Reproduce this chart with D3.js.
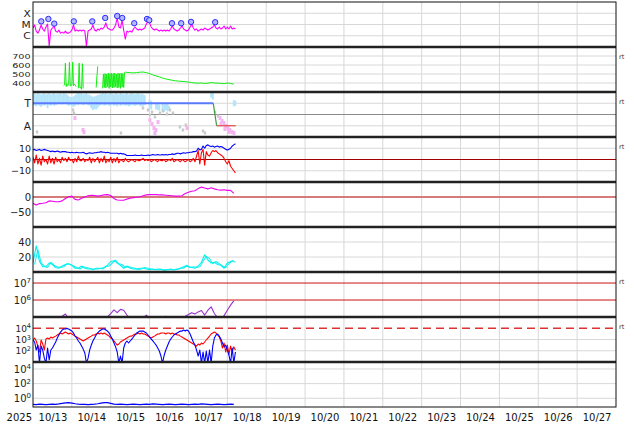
<!DOCTYPE html>
<html><head><meta charset="utf-8">
<script src="https://cdn.jsdelivr.net/npm/d3@7"></script>
<style>
html,body{margin:0;padding:0;background:#fff;}
svg{display:block;}
</style></head><body>
<svg id="c" width="634" height="424"></svg>
<script>
// ---------- axis / label data ----------
const startISO = "2025-10-13T00:00:00Z";
const endISO = "2025-10-28T00:00:00Z";
const yearLabel = "2025";
const dayLabels = ["10/13","10/14","10/15","10/16","10/17","10/18","10/19","10/20","10/21","10/22","10/23","10/24","10/25","10/26","10/27"];
const xrayTicks = [1e-4,1e-5,1e-6];
const xrayTickLabels = ["X","M","C"];
const speedTicks = [400,500,600,700];
const sectorTicks = [270,90];
const sectorTickLabels = ["T","A"];
const bTicks = [10,0,-10];
const dstTicks = [0,-50];
const densTicks = [20,40];
const e2Ticks = [1e7,1e6];
const pTicks = [1e4,1e3,1e2];
const p9Ticks = [1e4,1e2,1e0];
const rtPanels = [1,2,3,6,7];

// ---------- series (hourly from 10/13 00 UT unless noted) ----------
const xrayFlux = [4.9e-6,9.0e-6,2.6e-6,1.7e-6,3.2e-6,9.0e-6,4.0e-6,2.6e-6,6.0e-6,1.1e-5,
 1.2e-7,3.2e-6,4.9e-6,7.4e-6,2.6e-6,2.1e-6,3.2e-6,1.7e-6,2.1e-6,1.7e-6,
 2.6e-6,1.7e-6,1.7e-6,2.1e-6,3.2e-6,9.0e-6,2.6e-6,3.2e-6,2.6e-6,3.2e-6,
 2.6e-6,3.2e-6,2.6e-6,1.2e-7,2.6e-6,3.2e-6,4.0e-6,9.0e-6,3.2e-6,2.6e-6,
 4.0e-6,3.2e-6,4.9e-6,4.0e-6,6.0e-6,1.4e-5,4.9e-6,4.0e-6,3.2e-6,3.2e-6,
 4.9e-6,9.0e-6,3.8e-5,6.0e-6,4.9e-6,2.5e-5,3.2e-6,5.1e-7,2.6e-6,2.1e-6,
 2.6e-6,2.1e-6,4.0e-6,6.0e-6,4.0e-6,3.2e-6,4.0e-6,3.2e-6,4.0e-6,4.9e-6,
 1.1e-5,2.0e-5,1.4e-5,6.0e-6,4.0e-6,3.2e-6,4.0e-6,3.2e-6,2.6e-6,3.2e-6,
 2.6e-6,3.2e-6,2.6e-6,3.2e-6,2.6e-6,4.0e-6,7.4e-6,4.0e-6,3.2e-6,2.6e-6,
 3.2e-6,4.9e-6,7.4e-6,4.0e-6,3.2e-6,2.6e-6,3.2e-6,6.0e-6,1.1e-5,4.9e-6,
 3.2e-6,4.0e-6,2.6e-6,3.2e-6,4.0e-6,3.2e-6,4.9e-6,4.0e-6,3.2e-6,4.0e-6,
 4.9e-6,6.0e-6,9.0e-6,4.9e-6,4.0e-6,6.0e-6,4.0e-6,4.9e-6,7.4e-6,4.0e-6,
 6.0e-6,4.0e-6,7.4e-6,4.0e-6,4.9e-6,4.0e-6];
const flareHour = [5.1,9.5,13.1,25.2,36.6,44.6,52.0,55.1,62.5,70.4,71.8,85.8,91.5,97.6,112.5];
const flareFlux = [1.9e-5,3.1e-5,1.2e-5,1.9e-5,1.9e-5,3.8e-5,5.7e-5,3.8e-5,1.3e-5,3.1e-5,2.4e-5,1.3e-5,1.3e-5,1.7e-5,1.6e-5];

// solar wind speed: half-hourly from hour 19, then 2-hourly from hour 58
const speedNoisyStart = 19;
const speedNoisy = [370,380,620,360,390,370,380,630,365,380,375,630,370,385,380,360,null,null,
 340,620,345,350,330,615,340,
 null,null,null,null,null,null,null,null,null,null,null,null,null,null,null,
 350,480,585,null,null,null,null,null,
 340,500,350,505,345,500,360,510,340,505,355,510,345,505,350,510,355,500,345,510,350,505,340,510,355,505,350,515,520];
const speedSmoothStart = 58;
const speedSmooth = [518,515,512,515,520,522,515,505,490,478,468,455,445,438,430,425,420,418,415,410,405,400,398,400,395,398,405,400,398,395,392,400,395,388];

// IMF phi (deg): band limits, scattered points, sector estimate
const phiLo = [250,255,245,260,250,240,255,250,260,230,255,250,260,250,255,260,
 265,270,260,265,270,260,250,255,250,240,250,260,255,265,260,255,
 260,265,255,250,230,215,225,220,235,250,255,260,250,255,260,250,
 255,260,250,255,245,260,250,255,260,250,255,245,250,260,255,250,
 255,260,250,245,250,255,null,null,230,220,null,null,220,215,210,null,
 210,200,215,205,210,null,null,null,null,null,null,null,null,null,null,null,
 null,null,null,null,null,null,null,null,null,null,null,null,null,null,315,300,
 null,null,null,null,null,null,null,null,null,null,null,null,245,250];
const phiHi = [345,350,340,350,345,340,345,350,340,345,350,340,345,350,340,345,
 345,350,340,350,345,340,330,320,320,325,335,345,350,345,350,340,
 345,350,340,335,330,320,325,330,335,340,345,350,345,350,340,345,
 350,345,340,350,345,340,350,345,340,345,350,340,345,350,345,340,
 345,350,340,345,340,335,null,null,300,290,null,null,270,265,260,null,
 270,260,275,265,250,null,null,null,null,null,null,null,null,null,null,null,
 null,null,null,null,null,null,null,null,null,null,null,null,null,null,360,355,
 null,null,null,null,null,null,null,null,null,null,null,null,295,290];
const phiGrayHour = [2.5,24.7,25.3,54.3,67.9,71,72.2,73.5,75.3,78.4,80.2,82.7,84.6,86.4,90.7,92.6,94.4,105,106.2,112.4,114.2];
const phiGrayDeg  = [40,216,192,32,232,216,176,200,160,192,208,184,216,192,80,56,96,48,32,200,168];
const phiPinkHour = [25.9,30.9,31.5,72.2,73.5,74.7,75.3,75.9,77.2,95.1,115.5,116.1,116.7,117.9,118.5,119.2,120.4,121,121.6,122.9,124.1];
const phiPinkDeg  = [152,56,40,136,104,72,32,56,120,72,152,104,128,112,64,88,72,40,56,40,32];
const sectorHour = [0,111.3,113.4,125.2];
const sectorDeg = [270,270,90,90];
const sectorColors = ["#5b7bff","#3f9a3f","#e04848"];

// IMF Bt / Bz (nT)
const bt = [8.5,9,8,8.5,9,8,8.5,9,8.5,8,
 7.5,7,7.5,7,7,7.5,7,6.5,7,7,
 7,6.5,6.5,6,6.5,6,6,6.5,6,6,
 6,6.5,5.5,5,5.5,6,5.5,5.5,6,6,
 6.5,6.5,7,6.5,6.5,6,6.5,6,5.5,5.5,
 5.5,5.5,5.5,5,5.5,5,5,4.5,3.5,3.5,
 3.5,3.5,3.5,4,3.5,3.5,3.5,4,3.5,3.5,
 3.5,4,3.5,4,4.5,4,4,4.5,4,4,
 4.5,4,4.5,4,4.5,4.5,5,4.5,5,5.5,
 5.5,5,5.5,6,5.5,6,6,6.5,6.5,7,
 7,7.5,10,8.5,9,12,10,12.5,13,12,
 11.5,12,11,11.5,12,11,11.5,11,10,9,
 8.5,9,10,12,13,14];
const bz = [2,-3,4,-4,1,-5,3,-2,0,-4,
 3,-3,1,-4,2,-2,0,-3,2,-1,
 1,-2,2,-1,0,-3,1,-2,3,-1,
 -1,1,-2,0,-1,2,-3,1,-2,0,
 2,-3,1,-2,3,-3,0,-2,2,-3,
 1,-2,2,-3,0,-1,-2,1,-1,-2,
 -1,0,-1,-2,0,-1,-1,0,1,-1,
 0,-1,0,-2,-1,0,-1,-2,0,-1,
 -1,0,-2,-1,0,-1,1,-2,-1,0,
 -1,-2,0,-1,-2,-1,0,-2,-1,1,
 -2,3,8,-4,6,9,-5,7,4,3,
 6,8,7,8,6,5,4,3,1,-2,
 -4,-1,-6,-8,-10,-12];

// 2-hourly series
const dst = [-21,-27,-22,-21,-19,-13,-14,-16,-16,-13,-5,1,3,-8,-10,-4,0,4,6,5,3,5,7,8,5,-5,-10,-11,-11,-7,-4,-2,-1,1,4,7,8,8,8,7,7,6,5,4,3,3,4,12,16,19,21,28,33,30,27,31,27,24,23,24,22,22,12];
const density1 = [12,35,14,7,7,12,10,6,5,8,10,11,9,5,5,8,5,4,4,4,4,5,6,9,14,15,12,9,5,8,5,4,4,5,5,4,3,4,3,3,3,3,3,3,3,4,6,8,7,6,5,8,13,23,16,12,13,10,9,5,12,14,15];
const density2 = [10,30,12,8,6,13,9,7,6,7,11,10,8,6,4,7,6,5,3,5,5,4,7,8,12,16,11,10,6,7,6,5,3,4,6,5,4,3,4,4,2,3,4,3,4,5,5,9,6,7,6,7,14,21,18,11,14,11,8,6,11,15,13];
const electron2MeV = [5e4,5e4,6e4,5e4,5e4,6e4,5e4,6e4,7e4,1.1e5,1.5e5,8e4,
 6e4,7e4,6e4,6e4,7e4,6e4,6e4,7e4,6e4,7e4,8e4,
 1.0e5,1.6e5,2.6e5,1.8e5,2.8e5,2.5e5,1.3e5,8e4,
 7e4,7e4,8e4,9e4,1.3e5,8e4,7e4,7e4,8e4,8e4,1.1e5,8e4,8e4,7e4,8e4,
 9e4,1.1e5,1.4e5,1.8e5,1.5e5,2.0e5,2.4e5,1.3e5,2.5e5,4.0e5,1.6e5,9e4,8e4,1.2e5,2.5e5,5e5,9e5];
// hourly particle flux (two channels)
const fluxRed = [900,1350,740,260,77,900,400,116,1100,1350,
 1100,1660,1350,1660,2000,2500,3100,3800,3100,3800,
 4600,3800,3100,3800,3100,2500,2000,1660,1350,1100,
 900,740,900,1100,1350,1660,2000,2500,2500,3100,
 3800,3100,3800,3100,3800,3100,2500,2000,1350,1100,
 740,490,320,400,600,740,900,1100,1350,1660,
 2000,2000,2500,3100,3100,3800,3100,3800,3100,3100,
 2500,2000,1660,1350,1660,2000,2500,3100,3100,3800,
 3800,3800,3100,3800,3800,3100,3800,3100,3100,2500,
 2500,2000,1660,1350,1100,900,740,600,490,400,
 320,260,400,320,490,400,600,900,1350,2000,
 3100,3800,4600,3800,2500,1660,740,175,490,77,
 320,50,260,77,220,116];
const fluxBlue = [900,600,116,320,8,260,116,22,8,175,
 15,116,175,320,600,1350,2500,4600,6900,8500,
 8500,9500,8500,6900,5600,3800,2000,1350,740,490,
 260,140,63,8,22,116,320,740,1350,2500,
 3800,5600,6900,8500,8500,6900,5600,3800,2000,1100,
 490,220,77,8,34,8,175,490,740,490,
 740,1100,1660,2500,3800,4600,5600,5600,5600,4600,
 3800,2500,1660,1100,740,490,320,175,95,34,
 8,40,116,260,600,1100,1660,2500,3100,3800,
 4600,5600,5600,6900,5600,6900,5600,3100,1350,600,
 320,116,34,116,8,77,8,95,8,116,
 8,260,1350,2500,3100,2000,1100,490,220,320,
 116,40,8,175,8,77];
const lowFlux = [0.15,0.14,0.16,0.15,0.14,0.15,0.16,0.15,0.17,0.20,
 0.24,0.25,0.22,0.18,0.16,0.15,0.15,0.14,0.15,0.16,
 0.18,0.22,0.26,0.25,0.20,0.16,0.15,0.16,0.15,0.14,
 0.15,0.16,0.15,0.14,0.15,0.16,0.15,0.17,0.16,0.15,
 0.14,0.15,0.16,0.15,0.14,0.15,0.16,0.15,0.14,0.15,
 0.16,0.15,0.17,0.16,0.15,0.14,0.15,0.16,0.15,0.14,
 0.15,0.16,0.15];

// ---------- layout ----------
const W=634,H=424,L=33,R=616,TOP=2,PH=45,NP=9;
const FONT='"DejaVu Sans", sans-serif';
const ptop = i => TOP + PH*i;
const t0 = new Date(startISO);
const hr = h => new Date(t0.getTime() + h*3600000);
const x = d3.scaleUtc().domain([t0, new Date(endISO)]).range([L,R]);

const ys = [
  d3.scaleLog().domain([1e-7,1e-3]).range([ptop(1),ptop(0)]),
  d3.scaleLinear().domain([300,800]).range([ptop(2),ptop(1)]),
  d3.scaleLinear().domain([0,360]).range([ptop(3),ptop(2)]),
  d3.scaleLinear().domain([-20,20]).range([ptop(4),ptop(3)]),
  d3.scaleLinear().domain([-100,50]).range([ptop(5),ptop(4)]),
  d3.scaleLinear().domain([0,60]).range([ptop(6),ptop(5)]),
  d3.scaleLog().domain([1e5,Math.pow(10,7.65)]).range([ptop(7),ptop(6)]),
  d3.scaleLog().domain([10,1e5]).range([ptop(8),ptop(7)]),
  d3.scaleLog().domain([Math.pow(10,-1.19),Math.pow(10,4.95)]).range([ptop(9),ptop(8)])
];

const svg = d3.select("#c").attr("font-family",FONT);
const defs = svg.append("defs");
for (let i=0;i<NP;i++){
  defs.append("clipPath").attr("id","cp"+i).append("rect")
    .attr("x",L).attr("y",ptop(i)).attr("width",R-L).attr("height",PH);
}

// grid
const grid = svg.append("g");
const dayTicks = d3.utcDay.range(hr(24), new Date(endISO));
grid.selectAll("line.v").data(dayTicks).join("line")
  .attr("x1",d=>x(d)).attr("x2",d=>x(d)).attr("y1",TOP).attr("y2",ptop(NP))
  .attr("stroke","#d8d8d8").attr("stroke-width",1);
const hGrid = [xrayTicks, speedTicks, sectorTicks, [10,-10], [-50], densTicks, [], [1e3,1e2], p9Ticks];
hGrid.forEach((vals,i)=>{
  grid.selectAll("line.h"+i).data(vals).join("line")
    .attr("x1",L).attr("x2",R).attr("y1",d=>ys[i](d)).attr("y2",d=>ys[i](d))
    .attr("stroke","#d8d8d8").attr("stroke-width",1);
});
function refLine(i,v,color,w,dash){
  const l = grid.append("line").attr("x1",L).attr("x2",R)
    .attr("y1",ys[i](v)).attr("y2",ys[i](v)).attr("stroke",color).attr("stroke-width",w);
  if (dash) l.attr("stroke-dasharray",dash);
}
refLine(2,180,"#8a8a8a",1);
refLine(3,0,"#a00000",1);
refLine(4,0,"#d67a7a",2.2);
refLine(6,1e7,"#cc1111",1);
refLine(6,1e6,"#cc1111",1);
refLine(7,1e4,"#dd3333",1.4,"8,5");

// data helpers
function panelG(i){ return svg.append("g").attr("clip-path","url(#cp"+i+")"); }
function series(vals,start,step){ return vals.map((v,k)=>[start+k*step, v]); }
function drawLine(i,pts,color,w){
  const line = d3.line().defined(d=>d[1]!=null).x(d=>x(hr(d[0]))).y(d=>ys[i](d[1]));
  panelG(i).append("path").datum(pts).attr("d",line).attr("fill","none")
    .attr("stroke",color).attr("stroke-width",w).attr("stroke-linejoin","round");
}

// panel 0: X-ray
drawLine(0, series(xrayFlux,0,1), "#ff00ff", 1.1);
panelG(0).selectAll("circle").data(flareHour.map((h,k)=>[h,flareFlux[k]])).join("circle")
  .attr("cx",d=>x(hr(d[0]))).attr("cy",d=>ys[0](d[1])).attr("r",2.7)
  .attr("fill","#b4b8ff").attr("stroke","#2a2aff").attr("stroke-width",1);

// panel 1: speed
const speedPts = series(speedNoisy,speedNoisyStart,0.5).concat(series(speedSmooth,speedSmoothStart,2));
drawLine(1, speedPts, "#11ee11", 1);

// panel 2: phi
const bw = x(hr(1)) - x(hr(0)) + 0.3;
const pg = panelG(2);
pg.selectAll("rect.band").data(phiLo.map((lo,k)=>[k,lo,phiHi[k]]).filter(d=>d[1]!=null)).join("rect")
  .attr("x",d=>x(hr(d[0]))-bw/2).attr("width",bw)
  .attr("y",d=>ys[2](d[2])).attr("height",d=>ys[2](d[1])-ys[2](d[2]))
  .attr("fill","#b3e4fb");
pg.selectAll("rect.gray").data(phiGrayHour.map((h,k)=>[h,phiGrayDeg[k]])).join("rect")
  .attr("x",d=>x(hr(d[0]))-1.2).attr("y",d=>ys[2](d[1])-1.5).attr("width",2.4).attr("height",3)
  .attr("fill","#c9c9c9");
pg.selectAll("rect.pink").data(phiPinkHour.map((h,k)=>[h,phiPinkDeg[k]])).join("rect")
  .attr("x",d=>x(hr(d[0]))-1.5).attr("y",d=>ys[2](d[1])-2).attr("width",3).attr("height",4)
  .attr("fill","#f4b4f2");
for (let k=0;k<sectorHour.length-1;k++){
  pg.append("line").attr("x1",x(hr(sectorHour[k]))).attr("x2",x(hr(sectorHour[k+1])))
    .attr("y1",ys[2](sectorDeg[k])).attr("y2",ys[2](sectorDeg[k+1]))
    .attr("stroke",sectorColors[k]).attr("stroke-width",k===0?1.8:1.2);
}

// panel 3: Bt/Bz
drawLine(3, series(bt,0,1), "#0000ff", 1.1);
drawLine(3, series(bz,0,1), "#ff0000", 1.1);

// panel 4: Dst
drawLine(4, series(dst,0,2), "#ee00ee", 1.1);

// panel 5: density
drawLine(5, series(density2,1,2), "#22eeee", 1.1);
drawLine(5, series(density1,0,2), "#00f0f0", 1.1);

// panel 6: electrons
drawLine(6, series(electron2MeV,0,2), "#9a30d0", 1.1);

// panel 7: particle flux
drawLine(7, series(fluxRed,0,1), "#ff0000", 1.1);
drawLine(7, series(fluxBlue,0,1), "#0000ff", 1.1);

// panel 8
drawLine(8, series(lowFlux,0,2), "#0000ff", 1.2);

// ---------- frame ----------
const frame = svg.append("g");
for (let i=1;i<NP;i++){
  frame.append("line").attr("x1",L).attr("x2",R).attr("y1",ptop(i)).attr("y2",ptop(i))
    .attr("stroke","#222").attr("stroke-width",2.6);
}
frame.append("rect").attr("x",L).attr("y",TOP).attr("width",R-L).attr("height",PH*NP)
  .attr("fill","none").attr("stroke","#111").attr("stroke-width",1);

// ---------- y labels ----------
function yAxis(i, vals, fmt, size, opts){
  opts = opts || {};
  const ax = d3.axisLeft(ys[i]).tickValues(vals).tickSize(0).tickPadding(2);
  if (fmt) ax.tickFormat(fmt);
  const g = svg.append("g").attr("transform","translate("+L+",0)").call(ax);
  g.select(".domain").remove();
  g.selectAll("text").attr("font-family",FONT).attr("font-size",size).attr("fill","#222");
  if (opts.sx) g.selectAll("text").attr("transform","scale("+opts.sx+",1)");
  if (opts.sup){
    g.selectAll("text").each(function(d){
      const t = d3.select(this); const e = Math.round(Math.log10(d));
      t.text(null);
      t.append("tspan").text("10");
      t.append("tspan").attr("dy","-0.5em").attr("font-size",opts.sup).text(String(e));
    });
  }
  return g;
}
yAxis(0, xrayTicks, (d,k)=>xrayTickLabels[k], 9.5, {sx:1.12});
yAxis(1, speedTicks, d3.format("d"), 7.7, {sx:1.25});
yAxis(2, sectorTicks, (d,k)=>sectorTickLabels[k], 10.5);
yAxis(3, bTicks, d3.format("d"), 9.5);
yAxis(4, dstTicks, d3.format("d"), 10);
yAxis(5, densTicks, d3.format("d"), 10);
yAxis(6, e2Ticks, null, 10, {sup:7});
yAxis(7, pTicks, null, 9, {sup:6.5});
yAxis(8, p9Ticks, null, 10, {sup:7});

// rt labels
svg.selectAll("text.rt").data(rtPanels).join("text")
  .attr("x",619).attr("y",i=>ptop(i)+12).attr("font-size",6.5).attr("fill","#333")
  .text("rt");

// ---------- x labels ----------
const noon = dayLabels.map((s,k)=>hr(24*k+12));
const xa = d3.axisBottom(x).tickValues(noon).tickFormat((d,k)=>dayLabels[k]).tickSize(0).tickPadding(6.5);
const xg = svg.append("g").attr("transform","translate(0,"+ptop(NP)+")").call(xa);
xg.select(".domain").remove();
xg.selectAll("text").attr("font-family",FONT).attr("font-size",10).attr("fill","#111");
svg.append("text").attr("x",L-1).attr("y",ptop(NP)+6.5).attr("dy","0.71em")
  .attr("text-anchor","end").attr("font-size",10).attr("fill","#111").text(yearLabel);
</script></body></html>
